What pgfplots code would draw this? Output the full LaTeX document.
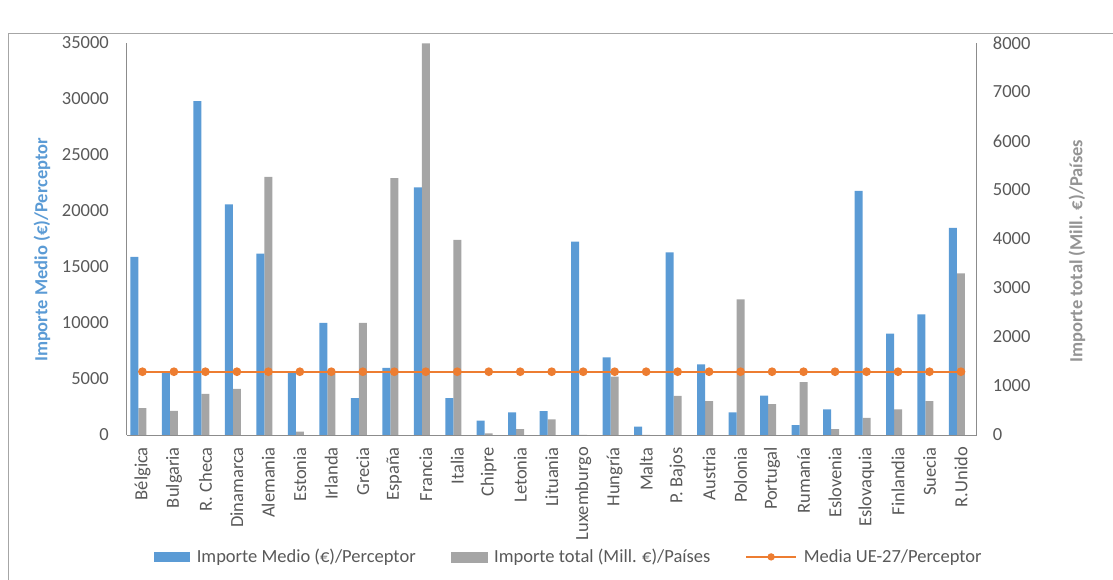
\documentclass[border=0pt]{standalone}
\usepackage{fontspec}
\setmainfont{Carlito}
\usepackage{pgfplots}
\pgfplotsset{compat=1.18}
\usepackage{pgfplotstable}

\definecolor{barblue}{HTML}{5B9BD5}
\definecolor{bargray}{HTML}{A5A5A5}
\definecolor{lineorange}{HTML}{ED7D31}
\definecolor{ticktext}{HTML}{595959}
\definecolor{axisgray}{HTML}{8C8C8C}

% x = position of the country, medio = euros per perceptor (left axis),
% total = million euros (right axis), media = EU-27 average
\pgfplotstableread{
x medio total media
0  15900 550  5650
1  5600  490  5650
2  29800 840  5650
3  20600 940  5650
4  16200 5270 5650
5  5550  67   5650
6  10000 1265 5650
7  3300  2290 5650
8  6000  5240 5650
9  22100 7990 5650
10 3300  3980 5650
11 1280  35   5650
12 2030  122  5650
13 2140  320  5650
14 17260 0    5650
15 6940  1190 5650
16 740   0    5650
17 16300 800  5650
18 6310  690  5650
19 2030  2770 5650
20 3510  630  5650
21 890   1080 5650
22 2290  122  5650
23 21800 350  5650
24 9050  525  5650
25 10780 690  5650
26 18500 3300 5650
}\datos

\pgfplotsset{
  base/.style={
    at={(0pt,0pt)}, anchor=south west, scale only axis,
    width=850pt, height=392pt,
    xmin=-0.5, xmax=26.5, ymin=0,
    major tick length=0pt,
    axis line style={axisgray, line width=0.8pt},
    tick label style={font=\fontsize{18.5}{21}\selectfont, text=ticktext, inner sep=0pt},
    /pgf/number format/assume math mode=true,
    /pgf/number format/set thousands separator={},
    scaled y ticks=false,
  }
}

\begin{document}
\begin{tikzpicture}
\useasboundingbox (-126.7pt,-145pt) rectangle (986.3pt,435pt);
\draw[gray!70, line width=0.8pt] (-118.7pt,-170pt) rectangle (1000pt,402pt);

% right scale: total amount per country
\begin{axis}[base,
  ymax=8000, ytick={0,1000,...,8000},
  axis x line=none, axis y line*=right,
  yticklabel shift=16pt,
  ylabel={Importe total  (Mill. €)/Países},
  ylabel style={at={(axis description cs:1.118,0.469)}, anchor=center,
    font=\bfseries\fontsize{18.5}{21}\selectfont, text=bargray!90!black},
]
\addplot[ybar, bar width=8pt, bar shift=0pt, fill=bargray, draw=none]
  table[x=x, y=total]{\datos};
\end{axis}

% left scale: average amount per perceptor
\begin{axis}[base,
  ymax=35000, ytick={0,5000,...,35000},
  axis x line*=bottom, axis y line*=left,
  xtick={0,...,26},
  xticklabels={Bélgica,Bulgaria,R. Checa,Dinamarca,Alemania,Estonia,Irlanda,Grecia,España,Francia,Italia,Chipre,Letonia,Lituania,Luxemburgo,Hungría,Malta,P. Bajos,Austria,Polonia,Portugal,Rumanía,Eslovenia,Eslovaquia,Finlandia,Suecia,R.Unido},
  xticklabel style={rotate=90, anchor=east},
  xticklabel shift=12pt,
  yticklabel shift=17.7pt,
  ylabel={Importe Medio (€)/Perceptor},
  ylabel style={at={(axis description cs:-0.0996,0.472)}, anchor=center,
    font=\bfseries\fontsize{18.5}{21}\selectfont, text=barblue},
  legend columns=3,
  legend style={at={(axis description cs:0.52,-0.311)}, anchor=center, draw=none,
    font=\fontsize{18.5}{21}\selectfont, text=ticktext,
    /tikz/every odd column/.append style={column sep=5pt},
    /tikz/every even column/.append style={column sep=33pt}},
]
\addplot[ybar, bar width=8pt, bar shift=-8pt, fill=barblue, draw=none,
  legend image code/.code={\fill[barblue] (0pt,-5pt) rectangle (36pt,5pt);}]
  table[x=x, y=medio]{\datos};
\addlegendentry{Importe Medio (€)/Perceptor}
\addlegendimage{legend image code/.code={\fill[bargray] (0pt,-5pt) rectangle (36pt,5pt);}}
\addlegendentry{Importe total  (Mill. €)/Países}
\addplot[lineorange, line width=2.2pt, mark=*, mark size=3.2pt,
  mark options={fill=lineorange, draw=lineorange},
  legend image code/.code={\draw[lineorange, line width=1.5pt] (0pt,0pt) -- (50pt,0pt);
    \fill[lineorange] (25pt,0pt) circle (2.5pt);}]
  table[x=x, y=media]{\datos};
\addlegendentry{Media UE-27/Perceptor}
\end{axis}
\end{tikzpicture}
\end{document}
